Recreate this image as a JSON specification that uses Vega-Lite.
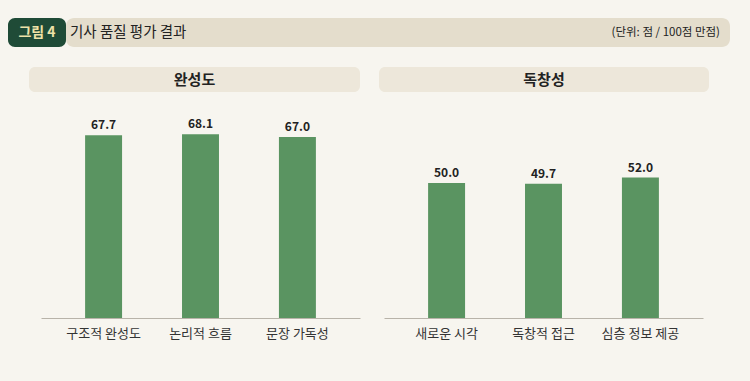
{
  "$schema": "https://vega.github.io/schema/vega-lite/v6.json",
  "background": "#f7f5ef",
  "padding": {"left": 8, "top": 18, "right": 25, "bottom": 45},
  "config": {"font": "Noto Sans CJK KR", "view": {"stroke": null}},
  "datasets": {
    "scores": [
      {"group": "완성도", "item": "구조적 완성도", "value": 67.7},
      {"group": "완성도", "item": "논리적 흐름", "value": 68.1},
      {"group": "완성도", "item": "문장 가독성", "value": 67.0},
      {"group": "독창성", "item": "새로운 시각", "value": 50.0},
      {"group": "독창성", "item": "독창적 접근", "value": 49.7},
      {"group": "독창성", "item": "심층 정보 제공", "value": 52.0}
    ]
  },
  "center": true,
  "spacing": 20,
  "vconcat": [
    {
      "spacing": 0,
      "hconcat": [
        {
          "width": 58, "height": 29,
          "view": {"fill": "#1f4b37", "cornerRadius": 7},
          "data": {"values": [{"t": "그림 4"}]},
          "mark": {"type": "text", "fontSize": 14, "fontWeight": "bold", "color": "#eee2a8", "baseline": "middle", "align": "center"},
          "encoding": {"text": {"field": "t"}}
        },
        {
          "width": 664, "height": 29,
          "view": {"fill": "#e4ddcc", "cornerRadius": 8},
          "layer": [
            {
              "data": {"values": [{"t": "기사 품질 평가 결과"}]},
              "mark": {"type": "text", "align": "left", "baseline": "middle", "fontSize": 14.5, "color": "#222", "dx": 4},
              "encoding": {
                "text": {"field": "t"},
                "x": {"datum": 0, "type": "quantitative", "scale": {"domain": [0, 1], "nice": false, "zero": false}, "axis": null}
              }
            },
            {
              "data": {"values": [{"t": "(단위: 점 / 100점 만점)"}]},
              "mark": {"type": "text", "align": "right", "baseline": "middle", "fontSize": 11.5, "color": "#222", "dx": -10},
              "encoding": {
                "text": {"field": "t"},
                "x": {"datum": 1, "type": "quantitative", "scale": {"domain": [0, 1], "nice": false, "zero": false}, "axis": null}
              }
            }
          ]
        }
      ]
    },
    {
      "spacing": 19,
      "hconcat": [
        {
          "spacing": 10,
          "align": "none",
          "vconcat": [
            {
              "width": 331, "height": 25,
              "view": {"fill": "#ede7da", "cornerRadius": 6},
              "data": {"values": [{"t": "완성도"}]},
              "mark": {"type": "text", "fontSize": 15, "fontWeight": "bold", "color": "#222", "baseline": "middle"},
              "encoding": {"text": {"field": "t"}}
            },
            {
              "spacing": 0,
              "hconcat": [
                {
                  "width": 12, "height": 216,
                  "data": {"values": [{"t": ""}]},
                  "mark": {"type": "text"},
                  "encoding": {"text": {"field": "t"}}
                },
                {
                  "width": 319, "height": 216,
                  "data": {"name": "scores"},
                  "transform": [{"filter": "datum.group === '완성도'"}],
                  "encoding": {
                    "x": {"field": "item", "type": "nominal", "sort": null,
                      "scale": {"paddingInner": 0.6186, "paddingOuter": 0.455},
                      "axis": {"title": null, "labelAngle": 0, "ticks": false, "domainColor": "#b8b3a9", "labelFontSize": 13, "labelColor": "#333", "labelPadding": 9, "grid": false}},
                    "y": {"field": "value", "type": "quantitative",
                      "scale": {"domain": [0, 80], "nice": false},
                      "axis": null}
                  },
                  "layer": [
                    {"mark": {"type": "bar", "color": "#5a9461"}},
                    {"mark": {"type": "text", "dy": -6, "baseline": "alphabetic", "fontWeight": "bold", "fontSize": 12, "color": "#222"},
                     "encoding": {"text": {"field": "value", "type": "quantitative", "format": ".1f"}}}
                  ]
                }
              ]
            }
          ]
        },
        {
          "spacing": 10,
          "align": "none",
          "vconcat": [
            {
              "width": 330, "height": 25,
              "view": {"fill": "#ede7da", "cornerRadius": 6},
              "data": {"values": [{"t": "독창성"}]},
              "mark": {"type": "text", "fontSize": 15, "fontWeight": "bold", "color": "#222", "baseline": "middle"},
              "encoding": {"text": {"field": "t"}}
            },
            {
              "spacing": 0,
              "hconcat": [
                {
                  "width": 5, "height": 216,
                  "data": {"values": [{"t": ""}]},
                  "mark": {"type": "text"},
                  "encoding": {"text": {"field": "t"}}
                },
                {
                  "width": 319, "height": 216,
                  "data": {"name": "scores"},
                  "transform": [{"filter": "datum.group === '독창성'"}],
                  "encoding": {
                    "x": {"field": "item", "type": "nominal", "sort": null,
                      "scale": {"paddingInner": 0.6186, "paddingOuter": 0.455},
                      "axis": {"title": null, "labelAngle": 0, "ticks": false, "domainColor": "#b8b3a9", "labelFontSize": 13, "labelColor": "#333", "labelPadding": 9, "grid": false}},
                    "y": {"field": "value", "type": "quantitative",
                      "scale": {"domain": [0, 80], "nice": false},
                      "axis": null}
                  },
                  "layer": [
                    {"mark": {"type": "bar", "color": "#5a9461"}},
                    {"mark": {"type": "text", "dy": -6, "baseline": "alphabetic", "fontWeight": "bold", "fontSize": 12, "color": "#222"},
                     "encoding": {"text": {"field": "value", "type": "quantitative", "format": ".1f"}}}
                  ]
                }
              ]
            }
          ]
        }
      ]
    }
  ]
}
